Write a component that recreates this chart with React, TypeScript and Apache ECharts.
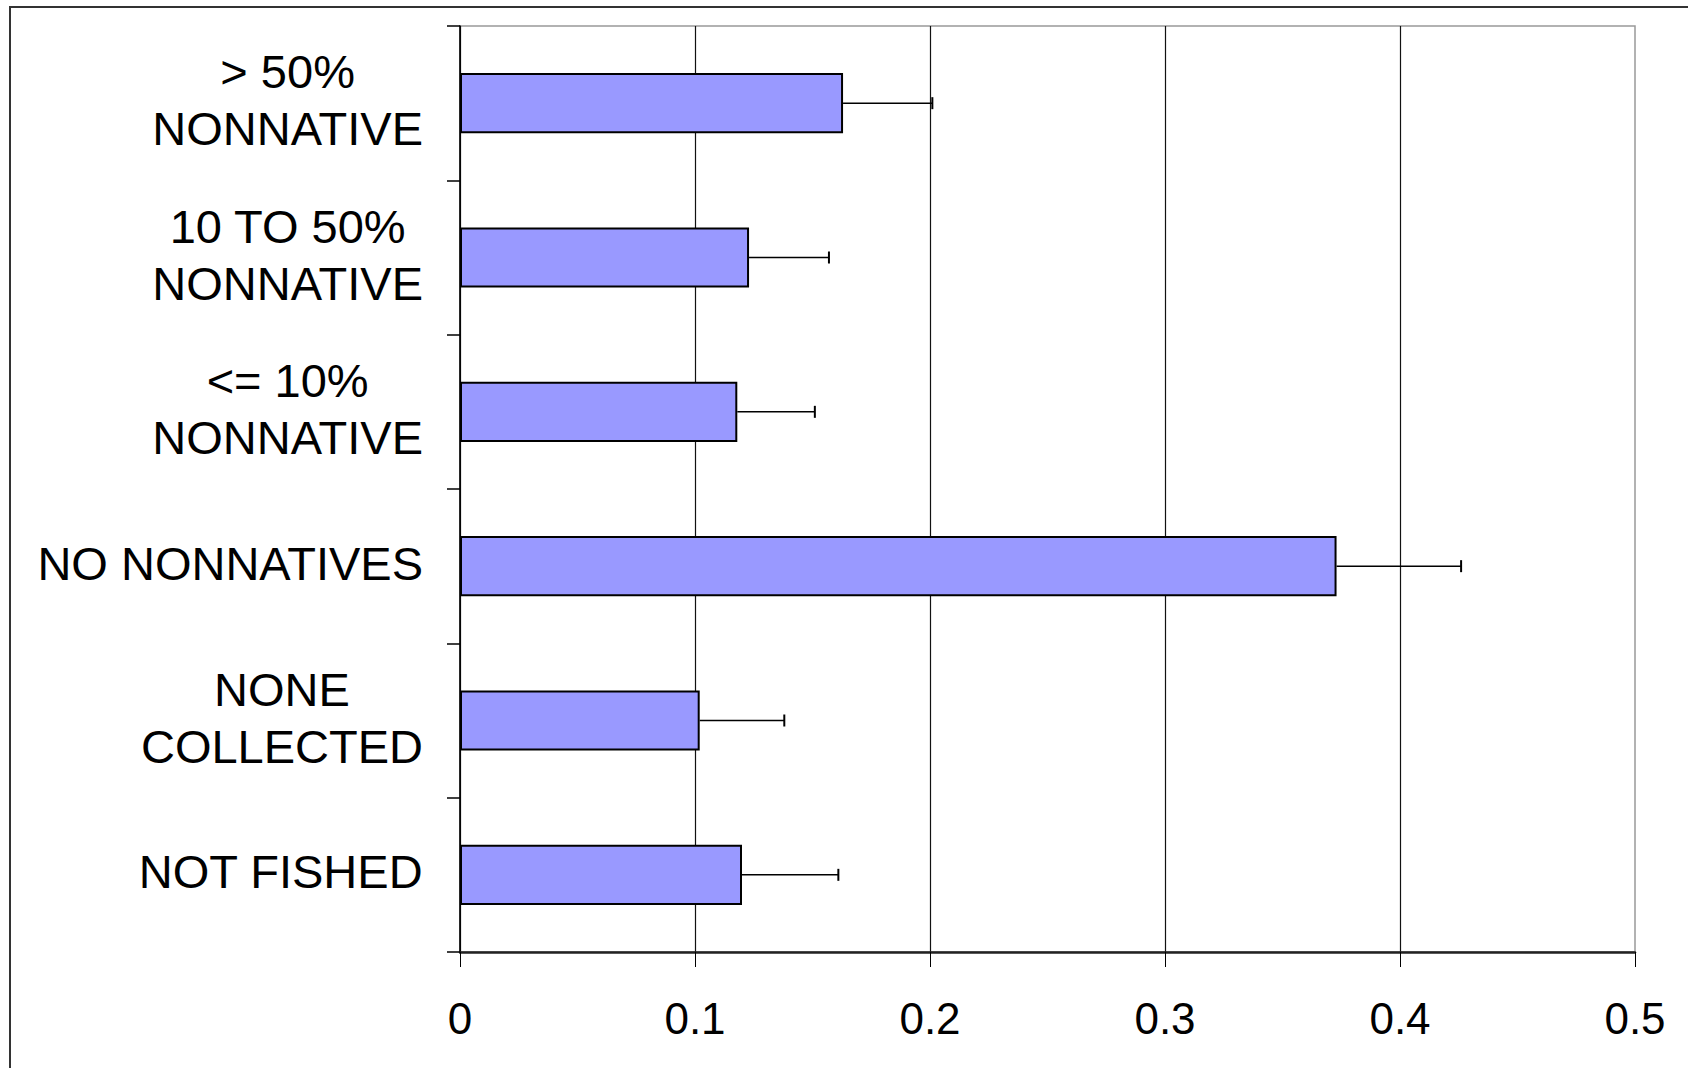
import React, { useEffect, useRef } from "react";
import * as echarts from "echarts";

const categories = [
  "> 50%\nNONNATIVE",
  "10 TO 50%\nNONNATIVE",
  "<= 10%\nNONNATIVE",
  "NO NONNATIVES",
  "NONE\nCOLLECTED",
  "NOT FISHED",
];
const means = [0.163, 0.123, 0.118, 0.373, 0.102, 0.12];
const errorsPlus = [0.038, 0.034, 0.033, 0.053, 0.036, 0.041];
const xTicks = { min: 0, max: 0.5, interval: 0.1 };

const FONT = "'Liberation Sans', Arial, sans-serif";

export default function App() {
  const ref = useRef<HTMLDivElement>(null);
  useEffect(() => {
    if (!ref.current) return;
    const chart = echarts.init(ref.current, null, { renderer: "svg" });
    const errData = categories.map((_, i) => [means[i], i, errorsPlus[i]]);
    chart.setOption({
      animation: false,
      backgroundColor: "#ffffff",
      grid: {
        left: 460,
        right: 53,
        top: 26,
        bottom: 116,
        show: true,
        borderColor: "#999999",
        borderWidth: 1.5,
      },
      graphic: [
        {
          type: "rect",
          shape: { x: 10, y: 7, width: 1720, height: 1120 },
          style: { fill: "none", stroke: "#333333", lineWidth: 2 },
          silent: true,
        },
      ],
      xAxis: {
        type: "value",
        min: xTicks.min,
        max: xTicks.max,
        interval: xTicks.interval,
        axisLine: { show: true, lineStyle: { color: "#222222", width: 2.5 } },
        axisTick: { show: true, length: 15, lineStyle: { color: "#000000", width: 1 } },
        splitLine: {
          show: true,
          showMaxLine: false,
          lineStyle: { color: "#111111", width: 1.2 },
        },
        axisLabel: {
          margin: 44,
          fontSize: 44,
          fontFamily: FONT,
          color: "#000000",
        },
      },
      yAxis: {
        type: "category",
        inverse: true,
        data: categories,
        axisLine: { show: true, lineStyle: { color: "#000000", width: 1.5 } },
        axisTick: { show: true, length: 13, alignWithLabel: false, lineStyle: { color: "#000000", width: 1.5 } },
        splitLine: { show: false },
        axisLabel: {
          margin: 37,
          fontSize: 47,
          fontFamily: FONT,
          color: "#000000",
          lineHeight: 57,
          padding: [0, 0, 6, 0],
          formatter: (v: string) =>
            v
              .split("\n")
              .map((s) => `{c|${s}}`)
              .join("\n"),
          rich: {
            c: {
              align: "center",
              fontSize: 47,
              fontFamily: FONT,
              color: "#000000",
              lineHeight: 57,
            },
          },
        },
      },
      series: [
        {
          type: "bar",
          data: means,
          barCategoryGap: "61%",
          itemStyle: { color: "#9999FF", borderColor: "#000000", borderWidth: 2 },
          z: 3,
        },
        {
          type: "custom",
          data: errData,
          encode: { x: 0, y: 1 },
          z: 4,
          renderItem: (params: any, api: any) => {
            const v = api.value(0);
            const c = api.value(1);
            const e = api.value(2);
            const p0 = api.coord([v, c]);
            const p1 = api.coord([v + e, c]);
            return {
              type: "group",
              children: [
                {
                  type: "line",
                  shape: { x1: p0[0], y1: p0[1], x2: p1[0], y2: p1[1] },
                  style: { stroke: "#000000", lineWidth: 1.5 },
                },
                {
                  type: "line",
                  shape: { x1: p1[0], y1: p1[1] - 6, x2: p1[0], y2: p1[1] + 6 },
                  style: { stroke: "#000000", lineWidth: 2 },
                },
              ],
            };
          },
        },
      ],
    });
    return () => chart.dispose();
  }, []);
  return (
    <div
      ref={ref}
      style={{ position: "absolute", left: 0, top: 0, width: 1688, height: 1068 }}
    />
  );
}
